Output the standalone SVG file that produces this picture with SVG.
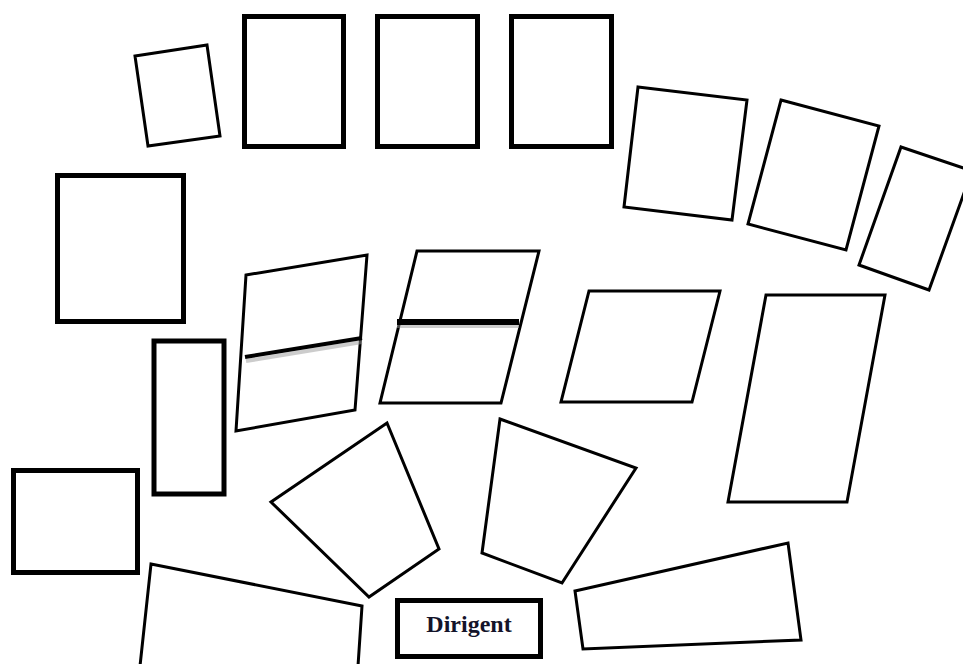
<svg xmlns="http://www.w3.org/2000/svg" width="963" height="664" viewBox="0 0 963 664">
<style>
.thin{fill:#fff;stroke:#000;stroke-width:3;stroke-linejoin:miter}
.thick{fill:#fff;stroke:#000;stroke-width:5}
.sep{stroke:#000;fill:none}
.shadow{stroke:#999;fill:none;opacity:0.5}
.lbl{font-family:"Liberation Serif","Times New Roman",serif;font-weight:bold;font-size:24px;fill:#14142a}
</style>
<rect width="963" height="664" fill="#fff"/>
<g id="seat-small-tilted"><polygon class="thin" points="135,56 207,45 220,136 148,146"/></g>
<g id="box-top-1"><rect class="thick" x="244.5" y="16.5" width="99" height="130"/></g>
<g id="box-top-2"><rect class="thick" x="377.5" y="16.5" width="100" height="130"/></g>
<g id="box-top-3"><rect class="thick" x="511.5" y="16.5" width="100" height="130"/></g>
<g id="box-right-a"><polygon class="thin" points="638,87 747,100 732,220 624,207"/></g>
<g id="box-right-b"><polygon class="thin" points="781,100 879,126 846,250 748,224"/></g>
<g id="box-right-c"><polygon class="thin" points="901,147 972,171 929,290 859,265"/></g>
<g id="box-left-big"><rect class="thick" x="57.5" y="175.5" width="126" height="146"/></g>
<g id="box-narrow"><rect class="thick" x="154" y="341" width="70" height="153"/></g>
<g id="box-bottom-left"><rect class="thick" x="13.5" y="470.5" width="124" height="102"/></g>
<g id="par-1">
<polygon class="thin" points="246,275 367,255 355,410 236,431"/>
<line class="shadow" x1="246" y1="361" x2="362" y2="342" stroke-width="4"/>
<line class="sep" x1="245" y1="357" x2="362" y2="338" stroke-width="4"/>
</g>
<g id="par-2">
<polygon class="thin" points="417,251 539,251 501,403 380,403"/>
<line class="shadow" x1="397" y1="326" x2="519" y2="326" stroke-width="4"/>
<line class="sep" x1="397" y1="322" x2="519" y2="322" stroke-width="6"/>
</g>
<g id="par-3"><polygon class="thin" points="589,291 720,291 692,402 561,402"/></g>
<g id="par-big"><polygon class="thin" points="766,295 885,295 847,502 728,502"/></g>
<g id="quad-left"><polygon class="thin" points="387,423 439,549 369,597 271,502"/></g>
<g id="quad-right"><polygon class="thin" points="500,419 636,468 562,583 482,553"/></g>
<g id="trap-bottom-left"><polygon class="thin" points="151,564 362,606 358,666 140,666"/></g>
<g id="trap-bottom-right"><polygon class="thin" points="575,591 788,543 801,640 583,649"/></g>
<g id="dirigent">
<rect class="thick" x="397.5" y="600.5" width="143" height="56"/>
<text class="lbl" x="469" y="632" text-anchor="middle">Dirigent</text>
</g>
<g id="connectors"/>
</svg>
